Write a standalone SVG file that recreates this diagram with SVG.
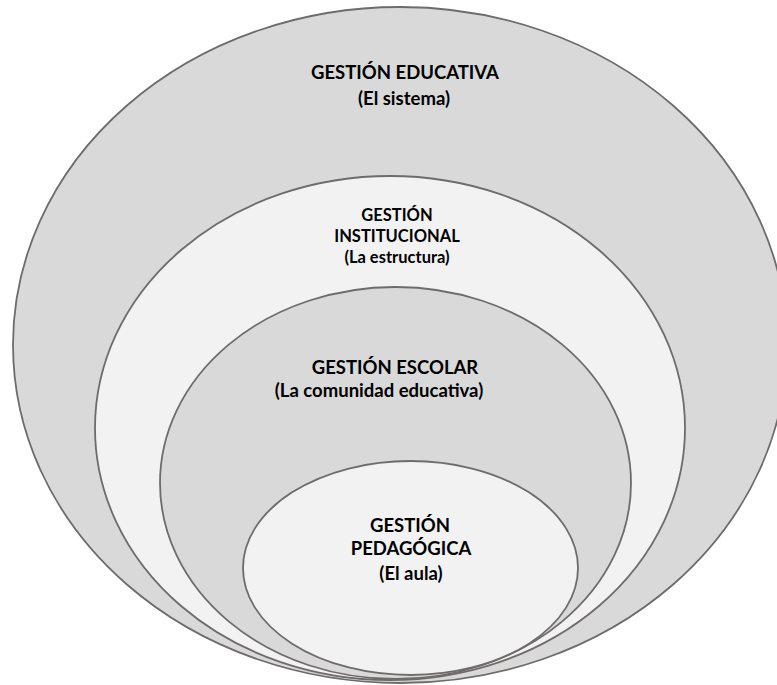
<svg xmlns="http://www.w3.org/2000/svg" width="777" height="685" viewBox="0 0 777 685">
<style>
.e{stroke:#6f6b6b;stroke-width:1.8}
.d{fill:#d9d9d9}
.l{fill:#f2f2f2}
text{font-family:Lato,"Liberation Sans",sans-serif;font-weight:bold;fill:#000;text-anchor:middle}
.b{font-size:18.5px}
.s{font-size:16.5px}
</style>
<rect width="777" height="685" fill="#fff"/>
<g id="node-educativa">
<ellipse class="e d" cx="400" cy="345" rx="387" ry="338"/>
<text class="b" x="405" y="79">GESTIÓN EDUCATIVA</text>
<text class="b" x="404" y="105">(El sistema)</text>
</g>
<g id="node-institucional">
<ellipse class="e l" cx="390" cy="428" rx="295" ry="252"/>
<text class="s" x="397" y="221">GESTIÓN</text>
<text class="s" x="397" y="242">INSTITUCIONAL</text>
<text class="s" x="397" y="263">(La estructura)</text>
</g>
<g id="node-escolar">
<ellipse class="e d" cx="395.5" cy="483" rx="235.5" ry="196"/>
<text class="b" x="395" y="374">GESTIÓN ESCOLAR</text>
<text class="b" x="379" y="397">(La comunidad educativa)</text>
</g>
<g id="node-pedagogica">
<ellipse class="e l" cx="410.5" cy="568" rx="167.5" ry="107"/>
<text class="b" x="410" y="532">GESTIÓN</text>
<text class="b" x="411" y="555">PEDAGÓGICA</text>
<text class="b" x="411" y="580">(El aula)</text>
</g>
<g id="connectors"></g>
</svg>
